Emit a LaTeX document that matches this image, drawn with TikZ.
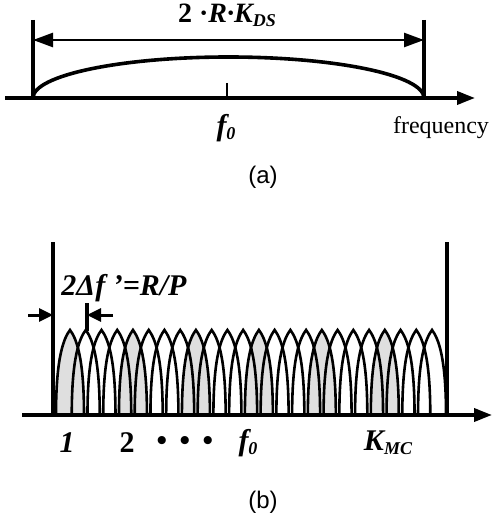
\documentclass[tikz,border=0pt]{standalone}
\usepackage{fontspec}
\setmainfont{Liberation Serif}
\newfontfamily\capfont{Liberation Sans}
\usetikzlibrary{arrows.meta}
\newcommand{\lowsub}[1]{\raisebox{-0.3ex}{\fontsize{9}{9}\selectfont #1}}

\begin{document}
\begin{tikzpicture}[
					x=0.5pt,y=-0.5pt,
					axisline/.style={line width=1.8pt,-{Triangle[length=9pt,width=6.5pt]}},
					bound/.style={line width=1.8pt},
					lobeline/.style={line width=1.3pt},
					lobefill/.style={fill=gray!25},
					lbl/.style={inner sep=0pt,font=\fontsize{15}{15}\selectfont\bfseries\itshape},
					caption/.style={inner sep=0pt,font=\capfont\fontsize{12}{12}\selectfont}
					]
					\useasboundingbox (0,0) rectangle (493,513);
					% (a)
					\coordinate (a0) at (5,98);
					\coordinate (a1) at (475,98);
					\coordinate (lt) at (33,20);
					\coordinate (lb) at (33,98);
					\coordinate (rt) at (424,20);
					\coordinate (rb) at (424,98);
					\coordinate (wl) at (33,40);
					\coordinate (wr) at (424,40);
					\coordinate (tt) at (227,83);
					\coordinate (tb) at (227,98);
					\draw[axisline] (a0) -- (a1);
					\draw[bound] (lt) -- (lb);
					\draw[bound] (rt) -- (rb);
					\draw[line width=1.3pt,{Triangle[length=10pt,width=7pt]}-{Triangle[length=10pt,width=7pt]}] (wl) -- (wr);
					\draw[bound] (lb) arc[start angle=180,end angle=360,x radius=195.5,y radius=41];
					\draw[line width=1.2pt] (tt) -- (tb);
					\node[lbl,font=\fontsize{14}{14}\selectfont\bfseries\itshape] (kds) at (227,15) {\upshape 2 ·\itshape R·K\lowsub{DS}};
					\node[lbl] (fa) at (226,128) {f\lowsub{0}};
					\node[inner sep=0pt,font=\fontsize{12}{12}\selectfont] (freq) at (441,128) {frequency};
					\node[caption] (capa) at (263,177) {(a)};
					% (b)
					\foreach \k [evaluate=\k as \c using 70+15.74*\k] in {0,4,...,20}{
						\path[lobefill] ({\c-14},415) .. controls ({\c-14},356) and ({\c-6},338) .. (\c,330)
							.. controls ({\c+6},338) and ({\c+14},356) .. ({\c+14},415) -- cycle;
					}
					\foreach \k [evaluate=\k as \c using 70+15.74*\k] in {0,...,23}{
						\draw[lobeline] ({\c-14},415) .. controls ({\c-14},356) and ({\c-6},338) .. (\c,330)
							.. controls ({\c+6},338) and ({\c+14},356) .. ({\c+14},415);
					}
					\coordinate (b0) at (22,415);
					\coordinate (b1) at (492,415);
					\coordinate (blt) at (53,242);
					\coordinate (blb) at (53,415);
					\coordinate (brt) at (447,242);
					\coordinate (brb) at (447,415);
					\coordinate (dl) at (28,315);
					\coordinate (dlt) at (53,315);
					\coordinate (dr) at (113,315);
					\coordinate (drt) at (87,315);
					\coordinate (pt) at (87,303);
					\coordinate (pb) at (87,331);
					\draw[line width=2.2pt] (blt) -- (blb);
					\draw[line width=2.2pt] (brt) -- (brb);
					\draw[axisline] (b0) -- (b1);
					\draw[line width=1.5pt,-{Triangle[length=7pt,width=6.5pt]}] (dl) -- (dlt);
					\draw[line width=1.5pt,-{Triangle[length=7pt,width=6.5pt]}] (dr) -- (drt);
					\draw[line width=1.8pt] (pt) -- (pb);
					\node[lbl] (df) at (124,288) {2Δf '=R/P};
					\node[lbl] (n1) at (67,443) {1};
					\node[lbl,font=\fontsize{15}{15}\selectfont\bfseries] (n2) at (127,443) {2};
					\node[lbl,font=\fontsize{15}{15}\selectfont\bfseries] (dots) at (185,443) {•\, •\, •};
					\node[lbl] (fb) at (248,443) {f\lowsub{0}};
					\node[lbl] (kmc) at (388,443) {K\lowsub{MC}};
					\node[caption] (capb) at (263,502) {(b)};
				\end{tikzpicture}
\end{document}
